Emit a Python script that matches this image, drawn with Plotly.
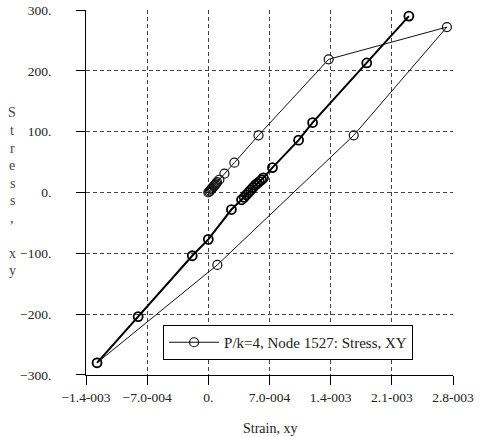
import plotly.graph_objects as go

# ---- data ----
# first half-cycle: initial loading from origin, overshoot, then unloading to the negative peak
strain_a = [0.0, 1.0e-5, 2.0e-5, 3.0e-5, 4.0e-5, 5.0e-5, 6.0e-5, 7.0e-5, 8.0e-5, 9.0e-5,
            1.0e-4, 1.26e-4, 1.84e-4, 2.98e-4, 5.74e-4, 1.377e-3, 2.73e-3, 1.664e-3,
            1.03e-4, -1.274e-3]
stress_a = [0.0, 1.5, 3.0, 5.0, 6.5, 8.0, 10.0, 11.5, 13.0, 15.0,
            17.0, 21.0, 31.0, 49.0, 94.0, 219.0, 272.0, 94.0,
            -119.0, -280.0]
# reloading branch: from the negative peak back up to the positive peak
strain_b = [-1.274e-3, -8.03e-4, -1.84e-4, 0.0, 2.64e-4, 3.8e-4, 4.1e-4, 4.35e-4, 4.6e-4,
            4.85e-4, 5.1e-4, 5.35e-4, 5.6e-4, 5.85e-4, 6.1e-4, 6.3e-4, 7.34e-4, 1.033e-3,
            1.193e-3, 1.813e-3, 2.295e-3]
stress_b = [-280.0, -204.0, -104.0, -77.0, -28.0, -12.0, -8.0, -4.0, 0.0,
            4.0, 8.0, 12.0, 15.0, 18.0, 21.0, 24.0, 41.0, 86.0,
            115.0, 213.0, 290.0]

x_tickvals = [-1.4e-3, -7.0e-4, 0.0, 7.0e-4, 1.4e-3, 2.1e-3, 2.8e-3]
x_ticktext = ["\u22121.4-003", "\u22127.0-004", "0.", "7.0-004", "1.4-003", "2.1-003", "2.8-003"]
y_tickvals = [-300, -200, -100, 0, 100, 200, 300]
y_ticktext = ["\u2212300.", "\u2212200.", "\u2212100.", "0.", "100.", "200.", "300."]

series_name = "P/k=4, Node 1527: Stress, XY"
x_title = "Strain, xy"
y_title = "Stress, xy"

FONT = "Liberation Serif"

fig = go.Figure()
fig.add_trace(go.Scatter(
    x=strain_a, y=stress_a, mode="lines+markers", name=series_name,
    line=dict(color="#111111", width=1),
    marker=dict(symbol="circle-open", size=9, color="#111111", line=dict(width=1.2)),
    showlegend=True,
))
fig.add_trace(go.Scatter(
    x=strain_b, y=stress_b, mode="lines+markers", name=series_name,
    line=dict(color="#000000", width=2),
    marker=dict(symbol="circle-open", size=9, color="#000000", line=dict(width=1.8)),
    showlegend=False,
))

grid = dict(showgrid=True, gridcolor="#444444", gridwidth=1, griddash="4px,3px",
            zeroline=False, showline=True, linecolor="#000000", linewidth=1,
            ticks="outside", ticklen=9, tickcolor="#000000", tickwidth=1,
            automargin=False,
            tickfont=dict(family=FONT, size=13.5, color="#222222"))

fig.update_xaxes(range=[-1.4e-3 - 1e-9, 2.8e-3 + 1e-9], tickmode="array",
                 tickvals=x_tickvals, ticktext=x_ticktext,
                 ticklabelstandoff=1, **grid)
fig.update_yaxes(range=[-300.05, 300.05], tickmode="array",
                 tickvals=y_tickvals, ticktext=y_ticktext,
                 ticklabelstandoff=22, **grid)

plot_left, plot_w = 86, 367
plot_top, plot_h = 10, 365

# x-axis title
fig.add_annotation(
    x=0.5, y=(plot_top + plot_h - 428) / plot_h, xref="paper", yref="paper",
    text=x_title, showarrow=False, xanchor="center", yanchor="middle",
    font=dict(family=FONT, size=14, color="#222222"),
)

# vertical stacked y-axis title
line_px = 17.5
top_px = 113
for i, ch in enumerate(y_title):
    if ch == " ":
        continue
    py = top_px + i * line_px
    fig.add_annotation(
        x=(12 - plot_left) / plot_w, y=(plot_top + plot_h - py) / plot_h,
        xref="paper", yref="paper", text=ch, showarrow=False,
        xanchor="center", yanchor="middle",
        font=dict(family=FONT, size=14, color="#444444"),
    )

fig.update_layout(
    width=481, height=437,
    margin=dict(l=86, r=28, t=10, b=62),
    paper_bgcolor="white", plot_bgcolor="white",
    font=dict(family=FONT, size=12, color="#222222"),
    legend=dict(x=0.21, y=(375 - 325) / 365, xanchor="left", yanchor="top",
                bgcolor="white", bordercolor="#000000", borderwidth=1,
                font=dict(family=FONT, size=15, color="#222222"),
                itemwidth=50, tracegroupgap=0),
    showlegend=True,
)

fig.write_html("out.html")
